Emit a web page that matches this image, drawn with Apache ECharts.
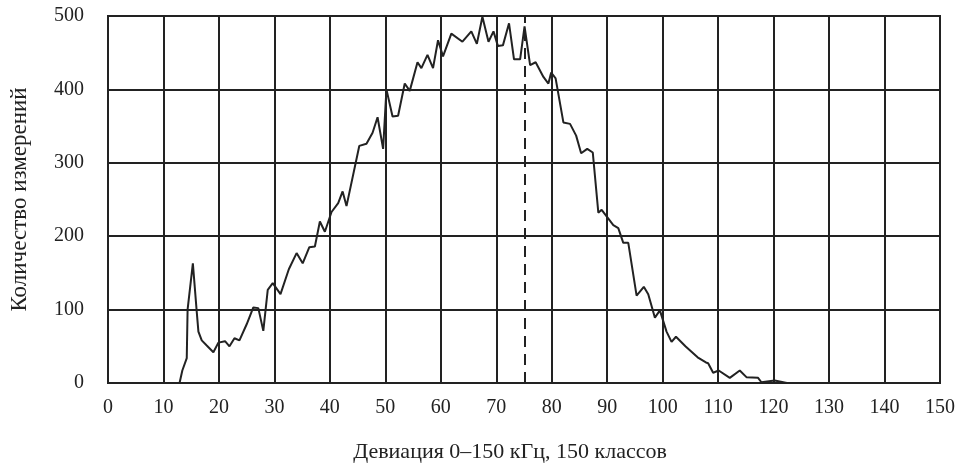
<!DOCTYPE html>
<html>
<head>
<meta charset="utf-8">
<script src="https://cdn.jsdelivr.net/npm/echarts@6/dist/echarts.min.js"></script>
<style>
    html, body {margin: 0; padding: 0; background: #fff;}
    #chart {width: 958px; height: 468px;}
</style>
</head>
<body>
<div id="chart"></div>
<script>
// deviation, kHz (traced vertices of the curve)
let deviation = [
    12.9, 13.4, 14.2, 14.35, 15.3, 16.0, 16.3, 16.9, 17.8, 19.0,
    19.9, 21.1, 21.9, 22.8, 23.7, 25.0, 26.2, 27.1, 28.0, 28.8,
    29.7, 31.1, 32.6, 34.0, 35.1, 36.3, 37.3, 38.2, 39.1, 40.3,
    41.5, 42.3, 43.0, 45.3, 46.6, 47.7, 48.6, 49.6, 50.2, 51.3,
    52.3, 53.5, 54.4, 55.8, 56.5, 57.6, 58.6, 59.5, 60.4, 61.9,
    63.9, 65.5, 66.5, 67.5, 68.6, 69.5, 70.3, 71.2, 72.3, 73.2,
    74.3, 75.1, 76.1, 77.1, 78.5, 79.4, 79.9, 80.7, 82.1, 83.3,
    84.4, 85.3, 86.4, 87.4, 88.4, 89.0, 90.0, 91.1, 92.0, 92.9,
    93.8, 95.3, 96.6, 97.4, 98.6, 99.5, 100.7, 101.6, 102.4, 104.1,
    106.3, 107.8, 108.2, 109.1, 110.1, 112.1, 113.9, 115.1, 117.2, 117.8,
    120.2, 122.4
];
// number of measurements
let counts = [
    0, 17, 34, 100, 163, 97, 70, 58, 51, 42,
    55, 57, 50, 61, 58, 80, 103, 102, 71, 127,
    136, 121, 155, 177, 163, 185, 186, 220, 206, 233,
    245, 261, 241, 323, 326, 341, 362, 319, 400, 363,
    364, 408, 398, 437, 429, 447, 429, 467, 445, 476,
    465, 479, 462, 499, 465, 479, 459, 460, 490, 441,
    441, 486, 433, 437, 417, 408, 423, 415, 355, 353,
    337, 313, 319, 314, 232, 236, 226, 215, 211, 191,
    191, 119, 131, 121, 89, 99, 70, 56, 63, 50,
    35, 28, 27, 14, 17, 7, 17, 8, 7, 1,
    3.5, 0
];
let markerX = 75.2;
let xTitle = 'Девиация 0–150 кГц, 150 классов';
let yTitle = 'Количество измерений';

let lineData = [];
for (let i = 0; i < deviation.length; i++) {
    lineData.push([deviation[i], counts[i]]);
}

let myChart = echarts.init(document.getElementById('chart'));
let ink = '#222';
let font = '"Liberation Serif", "Times New Roman", serif';

let option = {
    animation: false,
    backgroundColor: '#fff',
    textStyle: {fontFamily: font, color: ink},
    grid: {
        left: 108,
        right: 18,
        top: 16,
        bottom: 82,
        show: true,
        borderColor: ink,
        borderWidth: 2
    },
    xAxis: {
        type: 'value',
        min: 0,
        max: 150,
        interval: 10,
        name: xTitle,
        nameLocation: 'middle',
        nameGap: 58,
        // title sits a bit left of the plot centre in the original
        nameTextStyle: {fontFamily: font, fontSize: 22, color: ink, padding: [0, 28, 0, 0]},
        axisLine: {lineStyle: {color: ink, width: 2}},
        axisTick: {show: false},
        axisLabel: {fontFamily: font, fontSize: 20, color: ink, margin: 15},
        splitLine: {lineStyle: {color: ink, width: 2}}
    },
    yAxis: {
        type: 'value',
        min: 0,
        max: 500,
        interval: 100,
        name: yTitle,
        nameLocation: 'middle',
        nameGap: 77,
        nameTextStyle: {fontFamily: font, fontSize: 23, color: ink},
        axisLine: {show: true, lineStyle: {color: ink, width: 2}},
        axisTick: {show: false},
        axisLabel: {fontFamily: font, fontSize: 20, color: ink, margin: 24},
        splitLine: {lineStyle: {color: ink, width: 2}}
    },
    series: [
        {
            type: 'line',
            data: lineData,
            symbol: 'none',
            lineStyle: {color: ink, width: 2},
            markLine: {
                silent: true,
                symbol: 'none',
                label: {show: false},
                lineStyle: {color: ink, width: 2, type: [11, 7]},
                data: [{xAxis: markerX}]
            }
        }
    ]
};
myChart.setOption(option);
</script>
</body>
</html>
